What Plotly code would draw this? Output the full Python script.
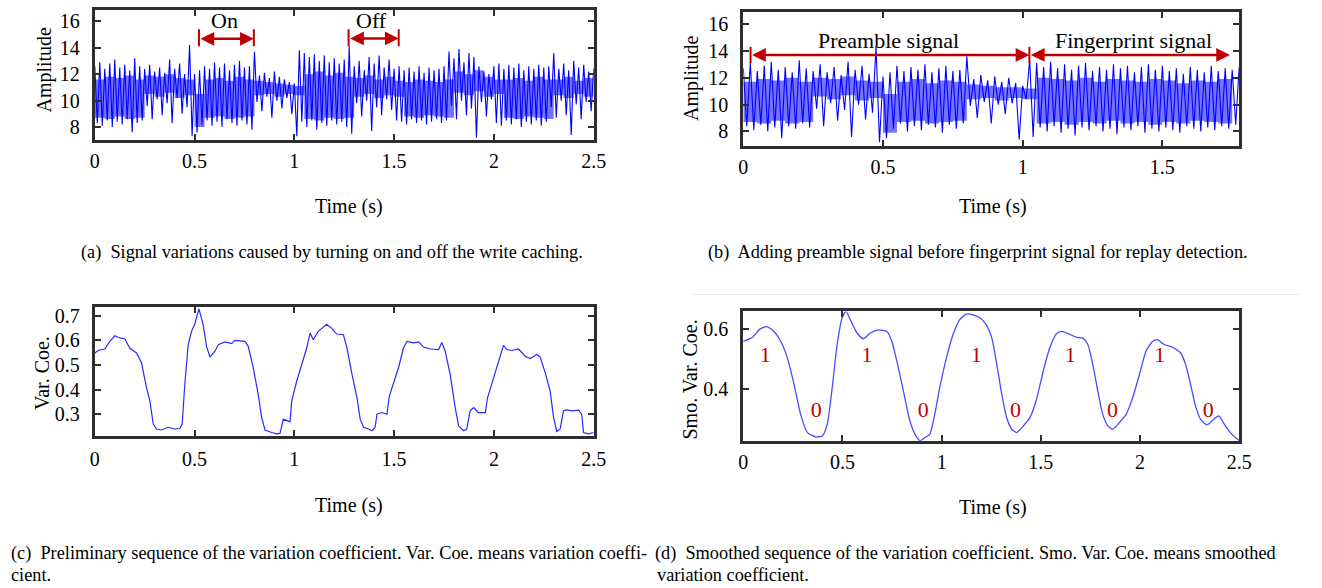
import numpy as np
import plotly.graph_objects as go

FONT = "Liberation Serif"
BLUE = "#0000ff"
RED = "#c00000"
FRAME = "#2e2e2e"
W, H = 1322, 588
FIG_W = 1337  # canvas a touch wider; the capture squeezes it back to 1322

# ---- (a) raw amplitude, write caching on/off: peaks / troughs every 25 ms ----
STEP_A = 0.025
hi_a = [12.6, 12.9, 12.4, 12.8, 13.1, 12.5, 12.7, 12.3, 13.2, 12.6,
        12.4, 12.7, 12.2, 12.5, 12.1, 13.1, 12.4, 12.8, 12.0, 14.2,
        12.0, 12.3, 12.6, 12.4, 12.9, 12.5, 12.8, 12.3, 12.7, 13.0,
        12.5, 12.6, 13.7, 11.9, 12.1, 11.7, 12.2, 11.8, 11.6, 11.4,
        11.3, 13.8, 13.6, 13.3, 13.5, 13.0, 13.4, 12.9, 13.2, 12.8,
        13.1, 14.1, 12.6, 13.0, 12.3, 13.3, 12.8, 13.4, 12.5, 13.1,
        12.4, 12.6, 12.3, 12.5, 12.2, 12.6, 12.1, 12.5, 12.3, 12.4,
        12.6, 13.7, 13.2, 13.9, 12.9, 13.6, 13.3, 12.6, 12.2, 12.0,
        12.6, 12.8, 12.4, 12.7, 12.5, 12.8, 12.3, 12.6, 12.4, 12.7,
        12.5, 12.6, 13.6, 12.4, 12.8, 12.3, 13.0, 12.5, 12.7, 12.2,
        12.4]
lo_a = [8.3, 8.1, 8.5, 8.0, 8.4, 8.2, 8.6, 7.6, 8.3, 8.5,
        9.6, 8.6, 10.1, 8.9, 9.8, 8.3, 10.2, 9.0, 9.5, 7.3,
        7.6, 8.2, 8.5, 8.1, 8.4, 8.0, 8.6, 8.3, 8.1, 8.5,
        8.2, 7.8, 9.9, 9.2, 10.3, 8.7, 10.0, 9.4, 10.2, 9.0,
        7.3, 8.4, 8.0, 8.5, 7.8, 8.3, 8.1, 8.5, 8.2, 8.4,
        8.0, 7.5, 9.8, 8.8, 10.0, 7.7, 9.5, 8.9, 10.1, 9.3,
        8.5, 8.4, 8.2, 8.6, 8.3, 8.5, 8.2, 8.4, 8.6, 8.3,
        8.5, 9.6, 8.6, 10.0, 8.9, 9.4, 7.2, 9.9, 8.8, 10.1,
        8.3, 8.1, 8.5, 8.2, 8.6, 8.0, 8.4, 8.2, 8.5, 8.1,
        8.4, 9.5, 8.7, 10.0, 8.9, 7.4, 9.7, 8.6, 9.9, 9.2,
        9.6]
# dense core of the trace, every 50 ms
CORE_STEP = 0.05
core_hi_a = [11.6, 11.8, 11.7, 11.9, 11.6, 11.9, 11.8, 12.0, 11.7, 11.6,
             10.5, 11.6, 11.7, 11.5, 11.8, 11.6, 11.5, 11.4, 11.3, 11.2,
             11.1, 12.0, 12.2, 11.9, 12.1, 11.8, 11.7, 11.9, 11.6, 11.8,
             11.5, 11.4, 11.6, 11.5, 11.4, 11.6, 12.2, 12.0, 12.3, 11.8,
             11.6, 11.6, 11.7, 11.5, 11.8, 11.6, 11.6, 11.8, 11.5, 11.7,
             11.4]
core_lo_a = [8.7, 8.6, 8.8, 8.6, 8.7, 10.5, 10.3, 10.6, 10.2, 10.4,
             8.0, 8.7, 8.8, 8.6, 8.7, 8.8, 10.4, 10.5, 10.3, 10.5,
             10.4, 8.6, 8.5, 8.7, 8.6, 8.7, 10.3, 10.5, 10.2, 10.4,
             10.3, 8.8, 8.7, 8.9, 8.8, 8.7, 10.6, 10.4, 10.7, 10.3,
             10.5, 8.7, 8.6, 8.8, 8.7, 8.6, 10.4, 10.2, 10.5, 10.3,
             10.4]

# ---- (b) preamble + fingerprint ----
hi_b = [12.7, 13.1, 12.5, 12.9, 13.2, 12.6, 12.8, 12.4, 13.3, 12.7,
        12.5, 13.0, 12.4, 12.8, 12.2, 13.2, 12.6, 12.9, 12.3, 14.3,
        12.1, 12.4, 12.9, 12.5, 12.8, 12.6, 13.0, 12.4, 12.7, 12.9,
        12.5, 12.6, 13.6, 11.9, 12.2, 11.8, 12.1, 11.7, 12.0, 11.6,
        11.4, 13.3, 13.1, 12.8, 13.2, 12.7, 13.0, 12.6, 12.9, 13.1,
        12.5, 12.8, 12.6, 13.0, 12.7, 12.9, 12.4, 12.8, 13.0, 12.6,
        12.9, 12.5, 12.7, 12.3, 12.8, 12.6, 12.4, 12.9, 12.5, 12.7,
        12.6, 12.8]
lo_b = [8.4, 8.1, 8.5, 8.0, 8.3, 7.5, 8.4, 8.2, 8.6, 8.3,
        9.7, 8.4, 10.1, 8.8, 9.6, 7.6, 10.0, 8.9, 9.4, 7.2,
        7.5, 8.2, 8.6, 8.0, 8.4, 8.1, 8.5, 8.3, 7.9, 8.5,
        8.2, 8.6, 9.9, 9.0, 10.2, 8.6, 10.0, 9.3, 10.1, 7.4,
        10.4, 7.6, 8.3, 8.0, 8.4, 7.9, 8.2, 7.7, 8.3, 8.1,
        8.4, 8.0, 8.2, 7.8, 8.3, 8.1, 8.4, 7.9, 8.2, 8.0,
        8.3, 8.1, 7.9, 8.4, 8.2, 8.0, 8.3, 8.1, 8.4, 8.2,
        8.5, 8.3]
core_hi_b = [11.7, 11.9, 11.8, 12.0, 11.7, 12.0, 11.9, 12.1, 11.8, 11.7,
             10.8, 11.7, 11.9, 11.6, 11.8, 11.7, 11.5, 11.4, 11.3, 11.3,
             11.2, 12.0, 11.9, 11.8, 12.0, 11.7, 11.9, 11.8, 11.7, 11.9,
             11.8, 11.6, 11.8, 11.7, 11.9, 11.7]
core_lo_b = [8.7, 8.6, 8.8, 8.6, 8.7, 10.6, 10.4, 10.7, 10.3, 10.5,
             7.9, 8.7, 8.8, 8.6, 8.7, 8.8, 10.4, 10.5, 10.3, 10.5,
             10.4, 8.6, 8.7, 8.5, 8.7, 8.6, 8.8, 8.6, 8.7, 8.5,
             8.7, 8.6, 8.8, 8.7, 8.6, 8.7]

# ---- (c) preliminary variation coefficient ----
t_c = [0, 0.017, 0.05, 0.075, 0.1, 0.125, 0.15, 0.175, 0.209, 0.234,
       0.259, 0.276, 0.293, 0.309, 0.334, 0.368, 0.401, 0.426, 0.438, 0.451,
       0.468, 0.485, 0.502, 0.522, 0.543, 0.56, 0.577, 0.602, 0.619, 0.652,
       0.686, 0.702, 0.753, 0.769, 0.794, 0.819, 0.836, 0.853, 0.886, 0.911,
       0.928, 0.945, 0.978, 0.987, 1.012, 1.037, 1.062, 1.079, 1.095, 1.12,
       1.162, 1.187, 1.212, 1.246, 1.264, 1.289, 1.314, 1.33, 1.347, 1.372,
       1.389, 1.405, 1.414, 1.439, 1.464, 1.476, 1.497, 1.522, 1.547, 1.564,
       1.598, 1.623, 1.648, 1.681, 1.723, 1.739, 1.756, 1.781, 1.806, 1.823,
       1.848, 1.864, 1.881, 1.898, 1.923, 1.957, 1.968, 1.998, 2.023, 2.048,
       2.065, 2.09, 2.123, 2.157, 2.182, 2.215, 2.232, 2.257, 2.282, 2.299,
       2.315, 2.332, 2.349, 2.365, 2.39, 2.424, 2.44, 2.449, 2.474, 2.5]
v_c = [0.549, 0.559, 0.565, 0.596, 0.619, 0.61, 0.607, 0.569, 0.549, 0.509,
       0.408, 0.354, 0.26, 0.24, 0.236, 0.247, 0.24, 0.242, 0.26, 0.421,
       0.583, 0.637, 0.67, 0.728, 0.664, 0.576, 0.532, 0.556, 0.583, 0.594,
       0.587, 0.6, 0.596, 0.576, 0.489, 0.381, 0.287, 0.236, 0.226, 0.22,
       0.222, 0.28, 0.269, 0.354, 0.435, 0.502, 0.569, 0.63, 0.603, 0.637,
       0.666, 0.65, 0.626, 0.623, 0.569, 0.462, 0.367, 0.28, 0.247, 0.24,
       0.233, 0.247, 0.3, 0.307, 0.3, 0.374, 0.428, 0.489, 0.569, 0.596,
       0.59, 0.594, 0.573, 0.565, 0.563, 0.592, 0.556, 0.462, 0.327, 0.253,
       0.233, 0.24, 0.314, 0.327, 0.307, 0.307, 0.367, 0.448, 0.509, 0.58,
       0.563, 0.559, 0.565, 0.536, 0.526, 0.543, 0.532, 0.469, 0.394, 0.287,
       0.23, 0.24, 0.314, 0.318, 0.314, 0.317, 0.3, 0.226, 0.22, 0.226]

# ---- (d) smoothed variation coefficient ----
t_d = [0, 0.047, 0.08, 0.117, 0.155, 0.189, 0.222, 0.256, 0.289, 0.323,
       0.364, 0.398, 0.423, 0.448, 0.473, 0.498, 0.518, 0.539, 0.573, 0.606,
       0.64, 0.682, 0.724, 0.749, 0.774, 0.807, 0.84, 0.866, 0.891, 0.916,
       0.94, 0.965, 0.99, 1.024, 1.057, 1.091, 1.124, 1.158, 1.191, 1.225,
       1.253, 1.278, 1.303, 1.328, 1.353, 1.378, 1.412, 1.445, 1.478, 1.512,
       1.545, 1.578, 1.604, 1.637, 1.679, 1.712, 1.737, 1.762, 1.787, 1.812,
       1.838, 1.863, 1.896, 1.93, 1.963, 1.997, 2.03, 2.063, 2.088, 2.122,
       2.163, 2.205, 2.23, 2.255, 2.28, 2.305, 2.338, 2.372, 2.397, 2.43,
       2.464, 2.5]
v_d = [0.558, 0.572, 0.597, 0.607, 0.591, 0.558, 0.504, 0.416, 0.318, 0.258,
       0.244, 0.247, 0.285, 0.405, 0.548, 0.635, 0.657, 0.63, 0.586, 0.567,
       0.586, 0.596, 0.591, 0.558, 0.493, 0.395, 0.296, 0.252, 0.231, 0.242,
       0.252, 0.318, 0.405, 0.504, 0.58, 0.63, 0.648, 0.646, 0.637, 0.613,
       0.569, 0.482, 0.384, 0.307, 0.269, 0.258, 0.28, 0.307, 0.367, 0.46,
       0.537, 0.583, 0.591, 0.584, 0.572, 0.569, 0.548, 0.482, 0.395, 0.318,
       0.28, 0.269, 0.291, 0.318, 0.373, 0.449, 0.526, 0.558, 0.564, 0.548,
       0.539, 0.52, 0.482, 0.416, 0.345, 0.302, 0.283, 0.302, 0.313, 0.28,
       0.252, 0.231]
bit_t = [0.11, 0.368, 0.624, 0.907, 1.175, 1.372, 1.648, 1.861, 2.1, 2.344]
bit_labels = ["1", "0", "1", "0", "1", "0", "1", "0", "1", "0"]

captions = {
    "a": "(a)  Signal variations caused by turning on and off the write caching.",
    "b": "(b)  Adding preamble signal before fingerprint signal for replay detection.",
    "c1": "(c)  Preliminary sequence of the variation coefficient. Var. Coe. means variation coeffi-",
    "c2": "cient.",
    "d1": "(d)  Smoothed sequence of the variation coefficient. Smo. Var. Coe. means smoothed",
    "d2": "variation coefficient.",
}


def zigzag(hi, lo, step):
    xs, ys = [], []
    for i in range(len(hi)):
        xs += [i * step, i * step + step / 2]
        ys += [hi[i], lo[i]]
    return xs, ys


def px(xp, yp):
    return xp / W, 1 - yp / H


fig = go.Figure()

# raw signal panels: filled core + zigzag peaks
for ax, hi, lo, chi, clo in [("", hi_a, lo_a, core_hi_a, core_lo_a),
                             ("2", hi_b, lo_b, core_hi_b, core_lo_b)]:
    tc = [i * CORE_STEP for i in range(len(chi))]
    fig.add_trace(go.Scatter(x=tc, y=chi, mode="lines", line=dict(width=0, shape="hv"),
                             xaxis="x" + ax, yaxis="y" + ax, hoverinfo="skip"))
    fig.add_trace(go.Scatter(x=tc, y=clo, mode="lines", line=dict(width=0, shape="hv"),
                             fill="tonexty", fillcolor="rgba(0,0,255,0.55)",
                             xaxis="x" + ax, yaxis="y" + ax, hoverinfo="skip"))
    zx, zy = zigzag(hi, lo, STEP_A)
    fig.add_trace(go.Scatter(x=zx, y=zy, mode="lines", line=dict(color=BLUE, width=1.1),
                             xaxis="x" + ax, yaxis="y" + ax))

fig.add_trace(go.Scatter(x=t_c, y=v_c, mode="lines", line=dict(color="#2a2aff", width=1.2),
                         xaxis="x3", yaxis="y3"))
fig.add_trace(go.Scatter(x=t_d, y=v_d, mode="lines",
                         line=dict(color="#4a4aff", width=1.3, shape="spline", smoothing=0.6),
                         xaxis="x4", yaxis="y4"))
fig.add_trace(go.Scatter(x=bit_t, y=[0.509 if b == "1" else 0.326 for b in bit_labels],
                         mode="text", text=bit_labels,
                         textfont=dict(family=FONT, size=22, color=RED),
                         xaxis="x4", yaxis="y4"))


def axis(domain, rng, tickvals, ticktext, anchor, standoff):
    return dict(domain=domain, range=rng, tickvals=tickvals, ticktext=ticktext, anchor=anchor,
                showline=True, mirror="ticks", linecolor=FRAME, linewidth=3,
                ticks="inside", ticklen=6, tickwidth=2, tickcolor=FRAME,
                showgrid=False, zeroline=False, ticklabelstandoff=standoff,
                tickfont=dict(family=FONT, size=20, color="black"))


xt = [0, 0.5, 1, 1.5, 2, 2.5]
xtt = ["0", "0.5", "1", "1.5", "2", "2.5"]
panels = {
    "": ((90, 590), (7, 138)),
    "2": ((740, 1237), (9, 144)),
    "3": ((90, 590), (306, 435)),
    "4": ((740, 1237), (310, 440)),
}
dom = {}
for k, ((x0, x1), (y0, y1)) in panels.items():
    dom[k] = ([x0 / W, x1 / W], [1 - y1 / H, 1 - y0 / H])

fig.update_layout(
    xaxis=axis(dom[""][0], [0, 2.5], xt, xtt, "y", 1),
    yaxis=axis(dom[""][1], [7.0, 16.85], [8, 10, 12, 14, 16], None, "x", 8),
    xaxis2=axis(dom["2"][0], [0, 1.775], xt[:4], xtt[:4], "y2", 1),
    yaxis2=axis(dom["2"][1], [6.9, 16.9], [8, 10, 12, 14, 16], None, "x2", 8),
    xaxis3=axis(dom["3"][0], [0, 2.5], xt, xtt, "y3", 3),
    yaxis3=axis(dom["3"][1], [0.2125, 0.734], [0.3, 0.4, 0.5, 0.6, 0.7], None, "x3", 8),
    xaxis4=axis(dom["4"][0], [0, 2.5], xt, xtt, "y4", 1),
    yaxis4=axis(dom["4"][1], [0.231, 0.657], [0.4, 0.6], None, "x4", 8),
)

annotations = []
shapes = []


def text_at(xp, yp, s, size=20, angle=0, xanchor="center", color="black", family=FONT):
    x, y = px(xp, yp)
    annotations.append(dict(x=x, y=y, xref="paper", yref="paper", text=s, showarrow=False,
                            textangle=angle, xanchor=xanchor, yanchor="middle",
                            font=dict(family=family, size=size, color=color)))


# axis titles
text_at(40, 67, "Amplitude", angle=-90)
text_at(345, 205, "Time (s)")
text_at(688, 75, "Amplitude", angle=-90)
text_at(990, 205, "Time (s)")
text_at(37, 372, "Var. Coe.", angle=-90)
text_at(345, 505, "Time (s)")
text_at(687, 378, "Smo. Var. Coe.", angle=-90)
text_at(990, 507, "Time (s)")

# captions
CAP = 18.3
text_at(328, 251, captions["a"], size=CAP)
text_at(975, 251, captions["b"], size=CAP)
text_at(4, 553, captions["c1"], size=CAP, xanchor="left")
text_at(4, 575, captions["c2"], size=CAP, xanchor="left")
text_at(649, 553, captions["d1"], size=CAP, xanchor="left")
text_at(651, 575, captions["d2"], size=CAP, xanchor="left")


def dbl_arrow(xa, ya, x0, x1, y):
    annotations.append(dict(x=x1, y=y, ax=x0, ay=y, xref=xa, yref=ya, axref=xa, ayref=ya,
                            text="", showarrow=True, arrowhead=2, arrowside="end+start",
                            arrowsize=1.1, arrowwidth=2.5, arrowcolor=RED))


def bar(xa, ya, x, y0, y1):
    shapes.append(dict(type="line", xref=xa, yref=ya, x0=x, x1=x, y0=y0, y1=y1,
                       line=dict(color=RED, width=2)))


def label(xa, ya, x, y, s):
    annotations.append(dict(x=x, y=y, xref=xa, yref=ya, text=s, showarrow=False,
                            font=dict(family=FONT, size=22, color="black")))


# (a) on / off spans
dbl_arrow("x", "y", 0.522, 0.797, 14.67)
bar("x", "y", 0.522, 14.1, 15.4)
bar("x", "y", 0.797, 14.1, 15.4)
label("x", "y", 0.649, 16.05, "On")
dbl_arrow("x", "y", 1.272, 1.523, 14.7)
bar("x", "y", 1.272, 14.1, 15.4)
bar("x", "y", 1.523, 14.1, 15.4)
label("x", "y", 1.389, 16.05, "Off")

# (b) preamble / fingerprint spans
dbl_arrow("x2", "y2", 0.026, 1.024, 13.7)
dbl_arrow("x2", "y2", 1.024, 1.742, 13.7)
bar("x2", "y2", 0.026, 13.1, 14.3)
bar("x2", "y2", 1.024, 13.1, 14.3)
label("x2", "y2", 0.52, 14.8, "Preamble signal")
label("x2", "y2", 1.396, 14.8, "Fingerprint signal")

# faint rule above panel (d)
shapes.append(dict(type="line", xref="paper", yref="paper", x0=688 / W, x1=1300 / W,
                   y0=1 - 293 / H, y1=1 - 293 / H, line=dict(color="#ececec", width=1)))

fig.update_layout(
    width=FIG_W, height=H, autosize=False, margin=dict(l=0, r=0, t=0, b=0),
    paper_bgcolor="white", plot_bgcolor="white", showlegend=False,
    annotations=annotations, shapes=shapes,
)

fig.write_html(
    "out.html",
    config={"displayModeBar": False, "responsive": False},
    post_script="document.body.style.margin='0';document.body.style.overflow='hidden';",
)
